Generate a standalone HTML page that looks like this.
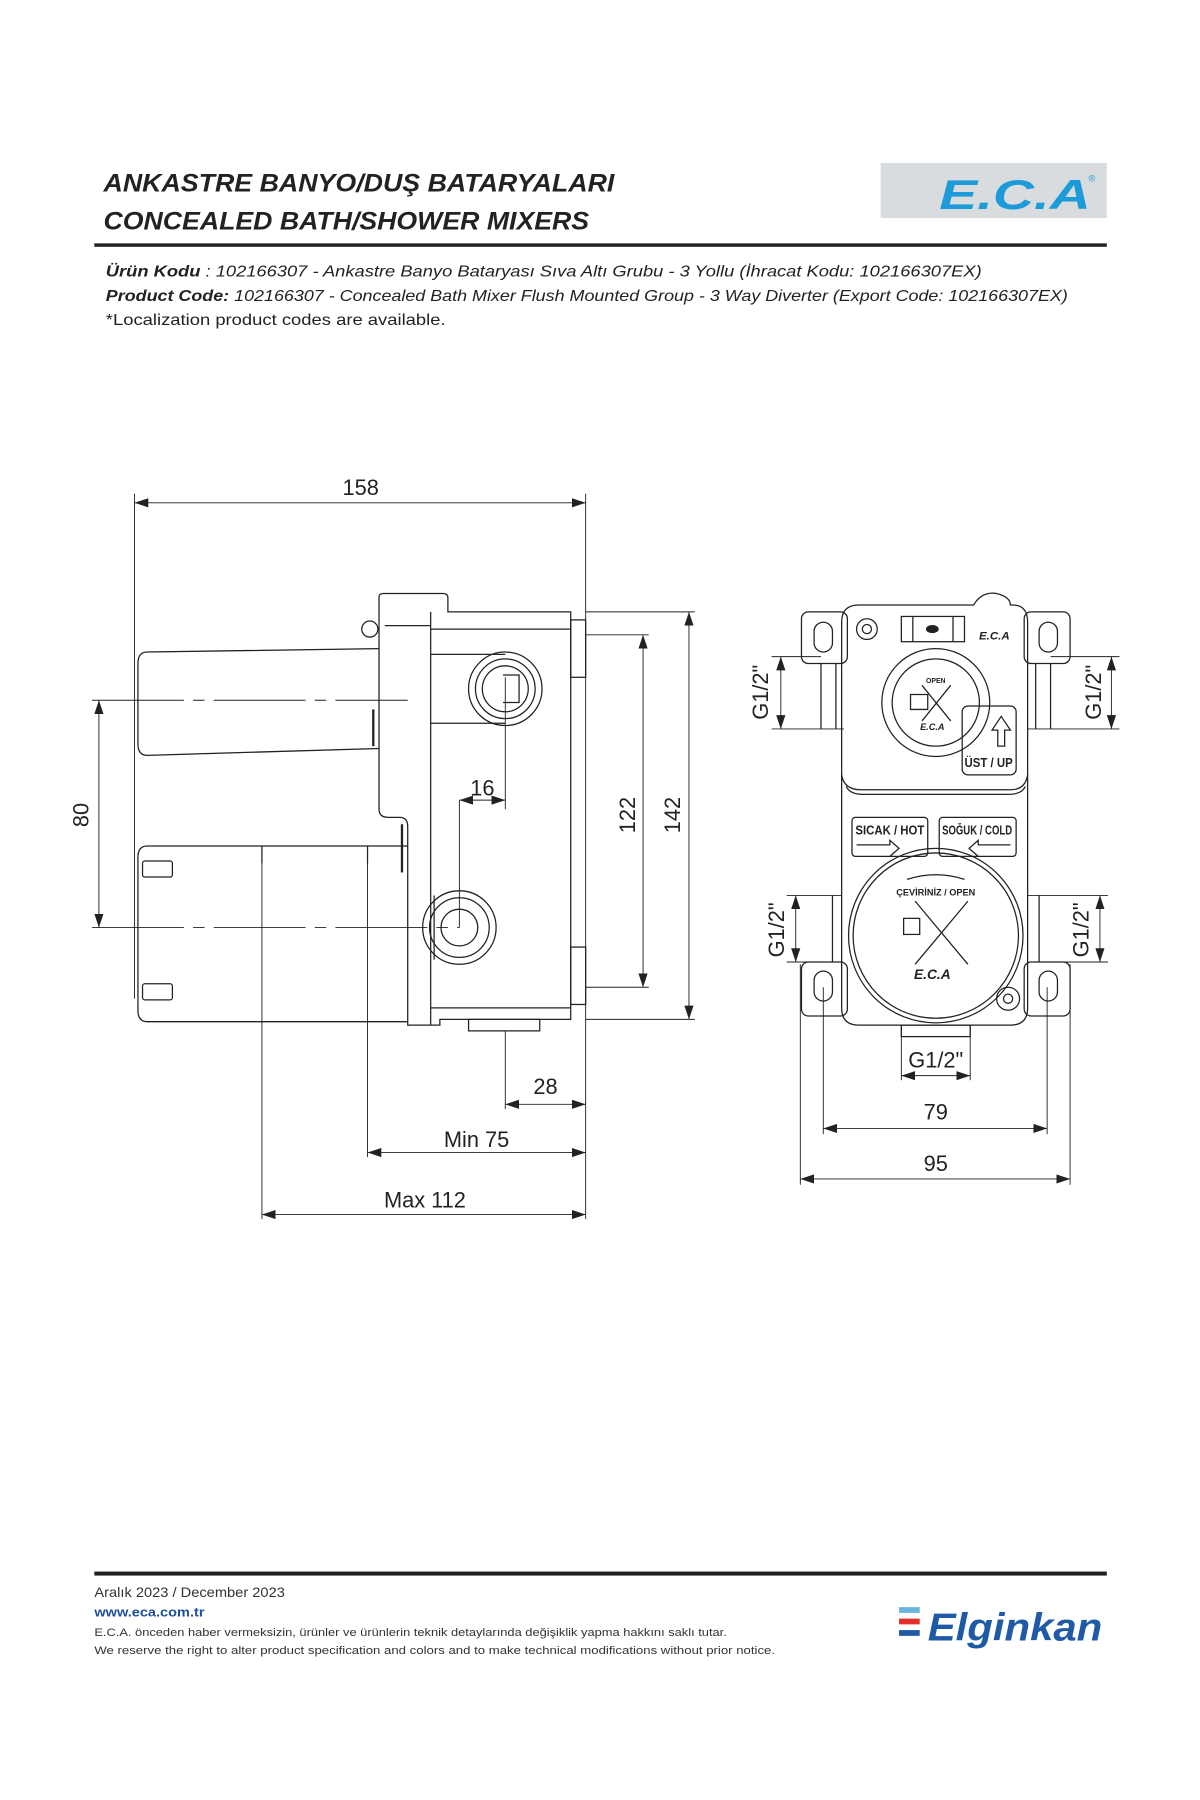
<!DOCTYPE html>
<html><head><meta charset="utf-8"><style>
html,body{margin:0;padding:0;background:#fff;}
svg{display:block}
</style></head><body>
<svg width="1200" height="1800" viewBox="0 0 1045 1568" xmlns="http://www.w3.org/2000/svg" font-family="Liberation Sans, sans-serif">
<defs>
<marker id="a" markerWidth="12" markerHeight="8" refX="12" refY="4" orient="auto-start-reverse" markerUnits="userSpaceOnUse"><path d="M0,0 L12,4 L0,8 z" fill="#222"/></marker>
</defs>
<rect width="1045" height="1568" fill="#fff"/>
<!-- header -->
<g font-style="italic" font-weight="bold" fill="#222" font-size="22">
<text x="90" y="167" textLength="445" lengthAdjust="spacingAndGlyphs">ANKASTRE BANYO/DUŞ BATARYALARI</text>
<text x="90" y="200" textLength="423" lengthAdjust="spacingAndGlyphs">CONCEALED BATH/SHOWER MIXERS</text>
</g>
<rect x="767" y="142" width="197" height="48" fill="#d9dcde"/>
<text x="818" y="182" font-size="36" font-weight="bold" font-style="italic" fill="#1d9ad8" textLength="132" lengthAdjust="spacingAndGlyphs">E.C.A</text>
<text x="948" y="158" font-size="8" fill="#1d9ad8">®</text>
<rect x="82" y="212" width="882" height="3" fill="#222"/>
<g font-style="italic" font-size="14" fill="#222">
<text x="92" y="241" textLength="763" lengthAdjust="spacingAndGlyphs"><tspan font-weight="bold">Ürün Kodu</tspan>      : 102166307 - Ankastre Banyo Bataryası Sıva Altı Grubu - 3 Yollu (İhracat Kodu: 102166307EX)</text>
<text x="92" y="262" textLength="838" lengthAdjust="spacingAndGlyphs"><tspan font-weight="bold">Product Code:</tspan> 102166307 - Concealed Bath Mixer Flush Mounted Group - 3 Way Diverter (Export Code: 102166307EX)</text>
<text x="92" y="283" font-style="normal" textLength="296" lengthAdjust="spacingAndGlyphs">*Localization product codes are available.</text>
</g>

<!-- LEFT DRAWING -->
<g fill="none" stroke="#222" stroke-width="1.1">
<line x1="117" y1="430" x2="117" y2="870" stroke-width="0.8"/>
<line x1="510" y1="430" x2="510" y2="1062" stroke-width="0.8"/>
<line x1="117" y1="438" x2="510" y2="438" marker-start="url(#a)" marker-end="url(#a)" stroke-width="0.8"/>
<line x1="80" y1="610" x2="355" y2="610" stroke-dasharray="80,8,10,8" stroke-width="0.8"/>
<line x1="80" y1="808" x2="400" y2="808" stroke-dasharray="80,8,10,8" stroke-width="0.8"/>
<line x1="86" y1="610" x2="86" y2="808" marker-start="url(#a)" marker-end="url(#a)" stroke-width="0.8"/>
<line x1="400" y1="697" x2="400" y2="808" stroke-width="0.8"/>
<line x1="440" y1="590" x2="440" y2="705" stroke-width="0.8"/>
<line x1="400" y1="697" x2="440" y2="697" marker-start="url(#a)" marker-end="url(#a)" stroke-width="0.8"/>
<line x1="510" y1="533" x2="605" y2="533" stroke-width="0.8"/>
<line x1="510" y1="888" x2="605" y2="888" stroke-width="0.8"/>
<line x1="510" y1="553" x2="565" y2="553" stroke-width="0.8"/>
<line x1="510" y1="860" x2="565" y2="860" stroke-width="0.8"/>
<line x1="560" y1="553" x2="560" y2="860" marker-start="url(#a)" marker-end="url(#a)" stroke-width="0.8"/>
<line x1="600" y1="533" x2="600" y2="888" marker-start="url(#a)" marker-end="url(#a)" stroke-width="0.8"/>
<line x1="440" y1="898" x2="440" y2="966" stroke-width="0.8"/>
<line x1="440" y1="962" x2="510" y2="962" marker-start="url(#a)" marker-end="url(#a)" stroke-width="0.8"/>
<line x1="320" y1="737" x2="320" y2="1008" stroke-width="0.8"/>
<line x1="320" y1="1004" x2="510" y2="1004" marker-start="url(#a)" marker-end="url(#a)" stroke-width="0.8"/>
<line x1="228" y1="740" x2="228" y2="1062" stroke-width="0.8"/>
<line x1="228" y1="1058" x2="510" y2="1058" marker-start="url(#a)" marker-end="url(#a)" stroke-width="0.8"/>
<path d="M330 520 Q330 517 334 517 L386 517 Q390 517 390 521 L390 533 L497 533 L497 888 L383 888 L383 893 L355 893 L355 720 Q355 712 348 712 L338 712 Q330 712 330 705 Z"/>
<line x1="375" y1="533" x2="375" y2="893"/>
<line x1="335" y1="545" x2="375" y2="545"/>
<line x1="375" y1="548" x2="497" y2="548"/>
<line x1="375" y1="878" x2="497" y2="878"/>
<rect x="497" y="540" width="13" height="50"/>
<rect x="497" y="825" width="13" height="50"/>
<rect x="408" y="888" width="62" height="10"/>
<circle cx="322" cy="548" r="7"/>
<path d="M330 565 L128 568 Q120 568 120 578 L120 648 Q120 658 128 658 L330 652"/>
<path d="M355 737 L128 737 Q120 737 120 747 L120 880 Q120 890 128 890 L355 890"/>
<rect x="124" y="750" width="26" height="14" rx="2"/>
<rect x="124" y="857" width="26" height="14" rx="2"/>
<line x1="228" y1="737" x2="228" y2="752"/>
<line x1="320" y1="737" x2="320" y2="752"/>
<line x1="350" y1="718" x2="350" y2="760" stroke-width="2"/>
<line x1="325" y1="618" x2="325" y2="650" stroke-width="2"/>
<path d="M375 570 L440 570"/><path d="M375 630 L440 630"/>
<circle cx="440" cy="600" r="32"/><circle cx="440" cy="600" r="26"/><circle cx="440" cy="600" r="20"/>
<path d="M438 588 L452 588 L452 612 L438 612" />
<circle cx="400" cy="808" r="32"/><circle cx="400" cy="808" r="26"/><circle cx="400" cy="808" r="16"/>
<path d="M378 780 L378 836"/>
</g>
<g font-size="19" fill="#222" text-anchor="middle">
<text x="314" y="431">158</text>
<text x="420" y="693">16</text>
<text x="475" y="953">28</text>
<text x="415" y="999">Min 75</text>
<text x="370" y="1052">Max 112</text>
<text transform="translate(77 710) rotate(-90)">80</text>
<text transform="translate(553 710) rotate(-90)">122</text>
<text transform="translate(592 710) rotate(-90)">142</text>
</g>

<!-- RIGHT DRAWING -->
<g fill="none" stroke="#222" stroke-width="1.1">
<rect x="698" y="533" width="40" height="45" rx="6"/>
<rect x="709" y="542" width="16" height="26" rx="8"/>
<rect x="892" y="533" width="40" height="45" rx="6"/>
<rect x="905" y="542" width="16" height="26" rx="8"/>
<rect x="698" y="838" width="40" height="47" rx="6"/>
<rect x="709" y="846" width="16" height="26" rx="8"/>
<rect x="892" y="838" width="40" height="47" rx="6"/>
<rect x="905" y="846" width="16" height="26" rx="8"/>
<line x1="715" y1="578" x2="715" y2="635"/><line x1="728" y1="578" x2="728" y2="635"/>
<line x1="902" y1="578" x2="902" y2="635"/><line x1="915" y1="578" x2="915" y2="635"/>
<line x1="725" y1="780" x2="725" y2="838"/><line x1="905" y1="780" x2="905" y2="838"/>
<path d="M748 527 L848 527 Q855 515 868 517 Q880 520 880 527 L882 527 Q895 527 895 542 L895 878 Q895 893 880 893 L748 893 Q733 893 733 878 L733 542 Q733 527 748 527 Z"/>
<path d="M733 675 Q735 688 750 688 L880 688 Q893 688 895 675"/>
<path d="M737 685 Q740 692 752 692 L878 692 Q890 692 893 685"/>
<circle cx="755" cy="548" r="9"/><circle cx="755" cy="548" r="4"/>
<rect x="785" y="537" width="55" height="22"/>
<line x1="795" y1="537" x2="795" y2="559"/><line x1="830" y1="537" x2="830" y2="559"/>
<ellipse cx="812" cy="548" rx="5" ry="3" fill="#222"/>
<circle cx="815" cy="612" r="47"/><circle cx="815" cy="612" r="38"/>
<path d="M793 605 L808 605 L808 618 L793 618 Z"/>
<line x1="803" y1="597" x2="828" y2="628"/><line x1="828" y1="597" x2="803" y2="628"/>
<rect x="838" y="615" width="47" height="60" rx="5"/>
<path d="M869 650 L869 636 L864 636 L872 624 L880 636 L875 636 L875 650 Z"/>
<rect x="742" y="712" width="66" height="34" rx="3"/>
<rect x="818" y="712" width="67" height="34" rx="3"/>
<path d="M746 736 L775 736 L775 732 L783 739 L775 746"/>
<path d="M880 736 L852 736 L852 732 L844 739 L852 746"/>
<circle cx="815" cy="815" r="76"/><circle cx="815" cy="815" r="72"/>
<path d="M790 766 Q815 758 840 766"/>
<rect x="787" y="800" width="14" height="14"/>
<line x1="797" y1="785" x2="843" y2="840"/><line x1="843" y1="785" x2="797" y2="840"/>
<circle cx="878" cy="870" r="10"/><circle cx="878" cy="870" r="4"/>
<rect x="785" y="893" width="60" height="10"/>
<line x1="785" y1="893" x2="785" y2="941" stroke-width="0.8"/><line x1="845" y1="893" x2="845" y2="941" stroke-width="0.8"/>
<line x1="785" y1="937" x2="845" y2="937" marker-start="url(#a)" marker-end="url(#a)" stroke-width="0.8"/>
<line x1="672" y1="572" x2="715" y2="572" stroke-width="0.8"/><line x1="672" y1="635" x2="735" y2="635" stroke-width="0.8"/>
<line x1="680" y1="572" x2="680" y2="635" marker-start="url(#a)" marker-end="url(#a)" stroke-width="0.8"/>
<line x1="915" y1="572" x2="975" y2="572" stroke-width="0.8"/><line x1="895" y1="635" x2="975" y2="635" stroke-width="0.8"/>
<line x1="968" y1="572" x2="968" y2="635" marker-start="url(#a)" marker-end="url(#a)" stroke-width="0.8"/>
<line x1="685" y1="780" x2="733" y2="780" stroke-width="0.8"/><line x1="685" y1="838" x2="710" y2="838" stroke-width="0.8"/>
<line x1="693" y1="780" x2="693" y2="838" marker-start="url(#a)" marker-end="url(#a)" stroke-width="0.8"/>
<line x1="895" y1="780" x2="965" y2="780" stroke-width="0.8"/><line x1="920" y1="838" x2="965" y2="838" stroke-width="0.8"/>
<line x1="958" y1="780" x2="958" y2="838" marker-start="url(#a)" marker-end="url(#a)" stroke-width="0.8"/>
<line x1="717" y1="860" x2="717" y2="988" stroke-width="0.8"/><line x1="912" y1="860" x2="912" y2="988" stroke-width="0.8"/>
<line x1="717" y1="983" x2="912" y2="983" marker-start="url(#a)" marker-end="url(#a)" stroke-width="0.8"/>
<line x1="697" y1="840" x2="697" y2="1032" stroke-width="0.8"/><line x1="932" y1="840" x2="932" y2="1032" stroke-width="0.8"/>
<line x1="697" y1="1027" x2="932" y2="1027" marker-start="url(#a)" marker-end="url(#a)" stroke-width="0.8"/>
</g>
<g fill="#222" text-anchor="middle" font-size="9" font-weight="bold">
<text x="815" y="595" font-size="6">OPEN</text>
<text x="812" y="636" font-style="italic" font-size="8">E.C.A</text>
<text x="866" y="557" font-style="italic" font-size="10">E.C.A</text>
<text x="861" y="668" font-size="11" textLength="42" lengthAdjust="spacingAndGlyphs">ÜST / UP</text>
<text x="775" y="727" font-size="11" textLength="60" lengthAdjust="spacingAndGlyphs">SICAK / HOT</text>
<text x="851" y="727" font-size="11" textLength="61" lengthAdjust="spacingAndGlyphs">SOĞUK / COLD</text>
<text x="815" y="780" font-size="8">ÇEVİRİNİZ / OPEN</text>
<text x="812" y="853" font-style="italic" font-size="12">E.C.A</text>
</g>
<g font-size="19" fill="#222" text-anchor="middle">
<text x="815" y="930">G1/2"</text>
<text x="815" y="975">79</text>
<text x="815" y="1020">95</text>
<text transform="translate(669 603) rotate(-90)">G1/2"</text>
<text transform="translate(959 603) rotate(-90)">G1/2"</text>
<text transform="translate(683 810) rotate(-90)">G1/2"</text>
<text transform="translate(948 810) rotate(-90)">G1/2"</text>
</g>

<!-- footer -->
<rect x="82" y="1369" width="882" height="3.5" fill="#222"/>
<g font-size="11" fill="#333">
<text x="82" y="1391" font-size="12" textLength="166" lengthAdjust="spacingAndGlyphs">Aralık 2023 / December 2023</text>
<text x="82" y="1408" fill="#1d4f9a" font-weight="bold" textLength="96" lengthAdjust="spacingAndGlyphs">www.eca.com.tr</text>
<text x="82" y="1425" font-size="9.5" textLength="551" lengthAdjust="spacingAndGlyphs">E.C.A. önceden haber vermeksizin, ürünler ve ürünlerin teknik detaylarında değişiklik yapma hakkını saklı tutar.</text>
<text x="82" y="1441" font-size="9.5" textLength="593" lengthAdjust="spacingAndGlyphs">We reserve the right to alter product specification and colors and to make technical modifications without prior notice.</text>
</g>
<rect x="783" y="1400" width="18" height="5" fill="#6ab4e0"/>
<rect x="783" y="1410" width="18" height="5" fill="#e2302a"/>
<rect x="783" y="1420" width="18" height="5" fill="#1f5aa6"/>
<text x="808" y="1429" font-size="34" font-weight="bold" font-style="italic" fill="#1f5aa6" textLength="152" lengthAdjust="spacingAndGlyphs">Elginkan</text>
</svg>
</body></html>
